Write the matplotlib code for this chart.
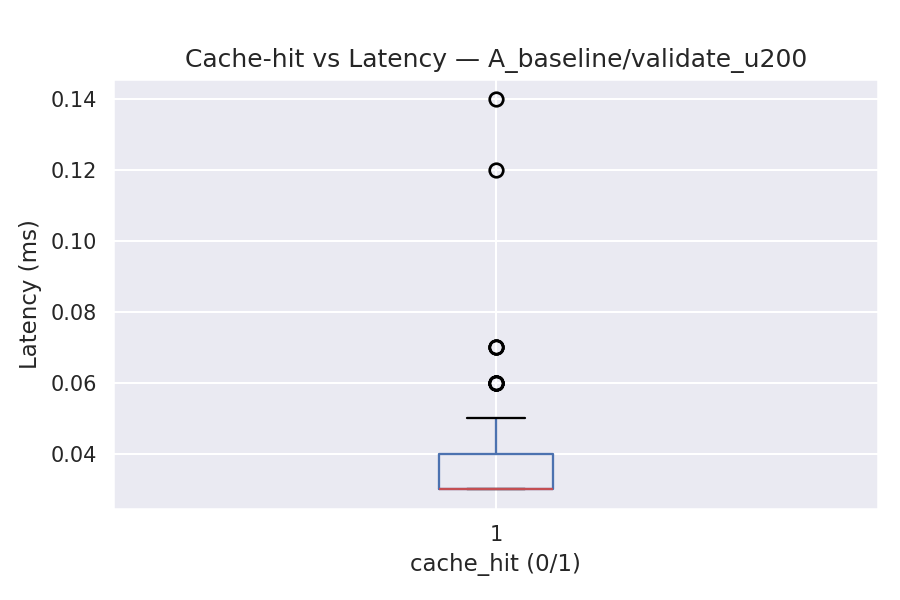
import numpy as np
import matplotlib
matplotlib.use("Agg")
import matplotlib.pyplot as plt
import seaborn as sns

# latency readings (ms) for the cache-hit group, as value -> count
latency_values = [0.03, 0.04, 0.05, 0.06, 0.07, 0.12, 0.14]
latency_counts = [120, 50, 20, 5, 3, 1, 1]
group_labels = ["1"]

latency = np.repeat(latency_values, latency_counts)

sns.set_theme()

fig, ax = plt.subplots(figsize=(6, 4), dpi=150)
fig.subplots_adjust(left=0.126, right=0.976, top=0.868, bottom=0.152)

ax.boxplot(
    [latency],
    widths=0.15,
    boxprops=dict(color="#4C72B0", linewidth=1.1),
    whiskerprops=dict(color="#4C72B0", linewidth=1.1),
    capprops=dict(color="black", linewidth=1.1),
    medianprops=dict(color="#C44E52", linewidth=1.1),
    flierprops=dict(marker="o", markersize=6.5, markeredgewidth=1.3,
                    markeredgecolor="black", markerfacecolor="none"),
)
ax.set_xticks([1])
ax.set_xticklabels(group_labels)
ax.tick_params(labelsize=10, pad=1.8)

ax.set_title("Cache-hit vs Latency \u2014 A_baseline/validate_u200", fontsize=12)
ax.set_xlabel("cache_hit (0/1)", fontsize=11)
ax.set_ylabel("Latency (ms)", fontsize=11)

plt.savefig("out.png", dpi=150)
